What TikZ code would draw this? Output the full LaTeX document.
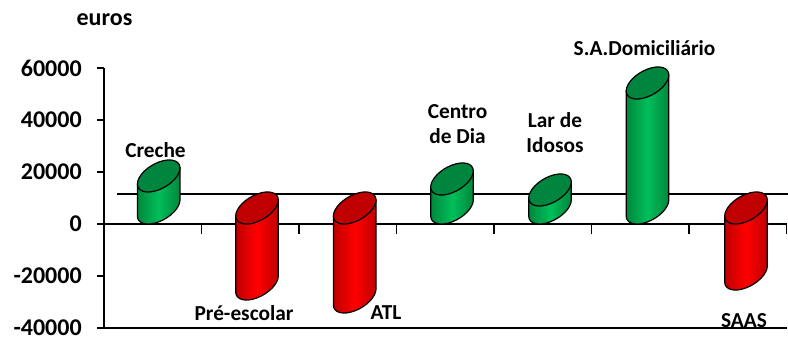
\documentclass[tikz,border=0pt]{standalone}
\usepackage{fontspec}
\setmainfont{Carlito}
\definecolor{barGreen}{RGB}{0,190,90}
\definecolor{edgeGreen}{RGB}{0,135,60}
\definecolor{topGreen}{RGB}{0,133,62}
\definecolor{barRed}{RGB}{255,0,0}
\definecolor{edgeRed}{RGB}{190,0,0}
\definecolor{topRed}{RGB}{192,0,0}
\begin{document}
\begin{tikzpicture}
[x=0.75pt,y=0.75pt,%
  axisLine/.style={line width=1.4pt},
  tickLabel/.style={anchor=east,inner sep=0pt,font=\fontsize{18}{20}\selectfont\bfseries},
  barLabel/.style={inner sep=0pt,align=center,font=\fontsize{16}{18.75}\selectfont\bfseries},
  barSide/.style={draw,line width=0.9pt,left color=#1,right color=#1},
  barTop/.style={draw,line width=0.9pt,fill=#1}]
\useasboundingbox (0,0) rectangle (788,341);
%% axes
\coordinate (top) at (104,273);
\coordinate (org) at (104,13);
\coordinate (zeroL) at (97,117);
\coordinate (zeroR) at (786.5,117);
\coordinate (endR) at (786.5,13);
\coordinate (avgL) at (117,147);
\coordinate (avgR) at (788,147);
\draw[axisLine] (top) -- (org) -- (endR);
\draw[axisLine] (zeroL) -- (zeroR);
\draw[axisLine] (avgL) -- (avgR);
\foreach \v/\ty in {60000/273,40000/221,20000/169,0/117,-20000/65,-40000/13}{
  \draw[axisLine] (97,\ty) -- (104,\ty);
  \node (y\v) at (82,\ty) [tickLabel] {\v};
}
\foreach \i in {0,...,7}
  \draw[axisLine] (104+97.5*\i,117) -- (104+97.5*\i,107);
%% cylinders
\foreach \cx/\lo/\hi/\sc/\tc in {158.7/0/32/Green/Green, 257/-76/0/Red/Red,
  354.7/-89/0/Red/Red, 452/0/29/Green/Green, 550/0/18/Green/Green,
  647.5/0/125/Green/Green, 746/-66/0/Red/Red}{
  \pgfmathsetmacro\yb{133+\lo}
  \pgfmathsetmacro\hh{(\hi-\lo)/13.9}
  \begin{scope}[cm={21.3,8,0,13.9,(\cx,\yb)}]
    \path[barSide=edge\sc,middle color=bar\sc] (-1,\hh) -- (-1,0)
      arc[start angle=180,end angle=360,radius=1] -- (1,\hh) -- cycle;
    \path[barTop=top\tc] (0,\hh) circle[radius=1];
  \end{scope}
}
%% labels
\node (euros) at (104.5,321) [barLabel,font=\fontsize{18}{20}\selectfont\bfseries] {euros};
\node (creche) at (155.5,191) [barLabel] {Creche};
\node (pre) at (244,28) [barLabel] {Pré-escolar};
\node (atl) at (386,28) [barLabel] {ATL};
\node (centro) at (457.5,217) [barLabel] {Centro\\de Dia};
\node (lar) at (555,208) [barLabel] {Lar de\\Idosos};
\node (sad) at (644.5,293) [barLabel] {S.A.Domiciliário};
\node (saas) at (744,20) [barLabel] {SAAS};
\end{tikzpicture}
\end{document}
